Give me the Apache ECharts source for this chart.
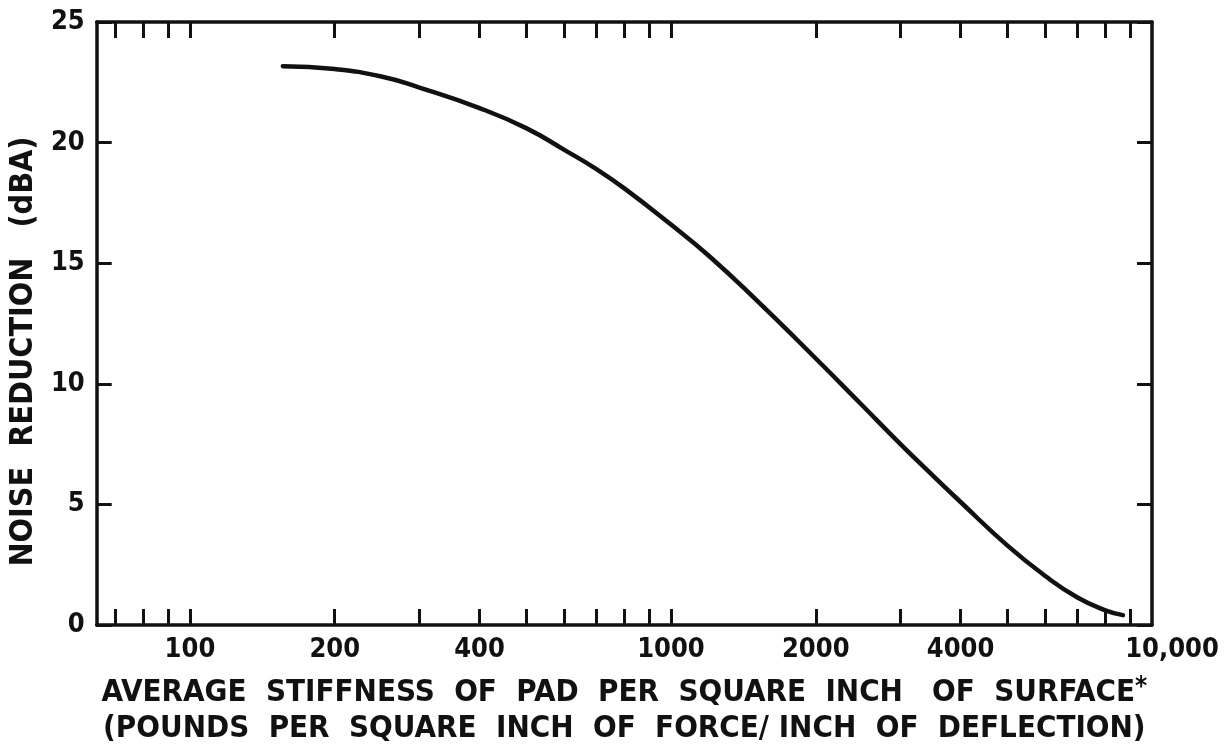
<!DOCTYPE html>
<html lang="en">
<head>
    <meta charset="UTF-8">
    <title>Noise reduction vs pad stiffness</title>
    <script src="https://cdn.jsdelivr.net/npm/echarts@6.0.0/dist/echarts.min.js"></script>
    <style>
        html, body { margin: 0; padding: 0; background: #fff; }
    </style>
</head>
<body>
    <div id="echart" style="width: 1226px; height: 752px;"></div>
</body>
<script>
    // curve: stiffness (lb/in^2 per in) vs noise reduction (dBA)
    const stiffness = [156, 200, 250, 300, 400, 500, 600, 700, 800, 1000, 1200, 1500, 2000, 2500, 3000, 3500, 4000, 5000, 6000, 7000, 8000, 8700];
    const reduction = [23.17, 23.05, 22.74, 22.28, 21.43, 20.6, 19.7, 18.9, 18.1, 16.6, 15.3, 13.5, 11.05, 9.1, 7.5, 6.2, 5.1, 3.3, 2.03, 1.14, 0.61, 0.41];

    // log axis ticks and the few that carry a label
    const xTicks = [70, 80, 90, 100, 200, 300, 400, 500, 600, 700, 800, 900,
        1000, 2000, 3000, 4000, 5000, 6000, 7000, 8000, 9000];
    const xLabels = [100, 200, 400, 1000, 2000, 4000, 10000];
    const yTicks = [0, 5, 10, 15, 20, 25];

    const xMin = 64, xMax = 10000;
    const FONT = '"DejaVu Sans Condensed", "Liberation Sans", sans-serif';
    const INK = '#111';

    const xTitle = 'AVERAGE  STIFFNESS  OF  PAD  PER  SQUARE  INCH   OF  SURFACE{s|*}\n' +
        '(POUNDS  PER  SQUARE  INCH  OF  FORCE/ INCH  OF  DEFLECTION)';

    const myChart = echarts.init(document.getElementById('echart'));

    const boxLine = { show: true, onZero: false, lineStyle: { color: INK, width: 3.5 } };

    myChart.setOption({
        backgroundColor: '#fff',
        animation: false,
        grid: { left: 95, right: 74, top: 22, bottom: 125, containLabel: false },
        xAxis: [
            {
                type: 'log',
                min: xMin,
                max: xMax,
                position: 'bottom',
                axisLine: boxLine,
                axisTick: {
                    inside: true, length: 16, customValues: xTicks,
                    lineStyle: { color: INK, width: 3 }
                },
                axisLabel: {
                    customValues: xLabels,
                    margin: 11,
                    color: INK,
                    fontFamily: FONT,
                    fontWeight: 'bold',
                    fontSize: 27,
                    // last label sits a little right of the corner in the original
                    formatter: v => v === 10000 ? '{r|10,000}' : String(v),
                    rich: { r: { padding: [0, 0, 0, 40], fontFamily: FONT, fontWeight: 'bold', fontSize: 27, color: INK } }
                },
                splitLine: { show: false },
                minorTick: { show: false },
                name: xTitle,
                nameLocation: 'middle',
                nameGap: 50,
                nameTextStyle: {
                    color: INK, fontFamily: FONT, fontWeight: 'bold', fontSize: 31,
                    lineHeight: 36,
                    rich: { s: { fontSize: 26, fontWeight: 'bold', fontFamily: FONT, verticalAlign: 'top', color: INK } }
                }
            },
            {
                type: 'log',
                min: xMin,
                max: xMax,
                position: 'top',
                axisLine: boxLine,
                axisTick: {
                    inside: true, length: 16, customValues: xTicks,
                    lineStyle: { color: INK, width: 3 }
                },
                axisLabel: { show: false },
                splitLine: { show: false }
            }
        ],
        yAxis: [
            {
                type: 'value',
                min: 0,
                max: 25,
                interval: 5,
                position: 'left',
                axisLine: boxLine,
                axisTick: {
                    inside: true, length: 15, customValues: yTicks,
                    lineStyle: { color: INK, width: 3 }
                },
                axisLabel: {
                    margin: 12,
                    color: INK,
                    fontFamily: FONT,
                    fontWeight: 'bold',
                    fontSize: 27
                },
                splitLine: { show: false },
                name: 'NOISE  REDUCTION   (dBA)',
                nameLocation: 'middle',
                nameRotate: 90,
                nameGap: 40,
                nameTextStyle: {
                    color: INK, fontFamily: FONT, fontWeight: 'bold', fontSize: 32,
                    padding: [0, 56, 0, 0]  // pushes the title a bit lower, as in the original
                }
            },
            {
                type: 'value',
                min: 0,
                max: 25,
                interval: 5,
                position: 'right',
                axisLine: boxLine,
                axisTick: {
                    inside: true, length: 15, customValues: yTicks,
                    lineStyle: { color: INK, width: 3 }
                },
                axisLabel: { show: false },
                splitLine: { show: false }
            }
        ],
        series: [
            {
                type: 'line',
                xAxisIndex: 0,
                yAxisIndex: 0,
                data: stiffness.map((s, i) => [s, reduction[i]]),
                smooth: 0.5,
                showSymbol: false,
                symbol: 'none',
                lineStyle: { color: INK, width: 4.5, cap: 'round' }
            }
        ]
    });
</script>
</html>
